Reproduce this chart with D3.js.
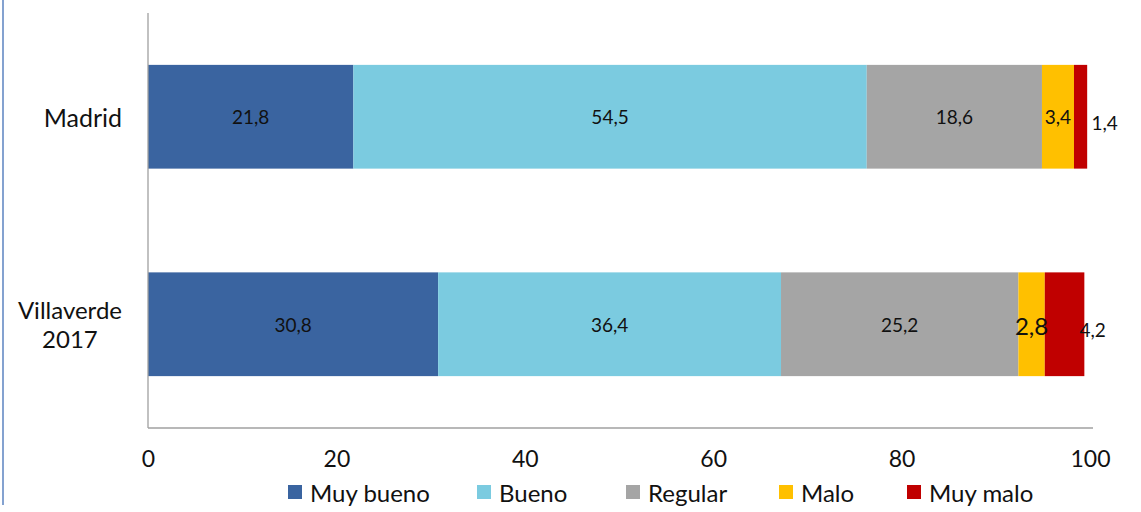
<!DOCTYPE html>
<html><head><meta charset="utf-8">
<script src="https://cdn.jsdelivr.net/npm/d3@7"></script>
<style>body{margin:0;background:#fff}svg{display:block}text{font-family:Lato,"Open Sans",sans-serif;fill:#111}</style>
</head><body>
<script>
const categories = ["Madrid", "Villaverde 2017"];
const series = ["Muy bueno", "Bueno", "Regular", "Malo", "Muy malo"];
const madrid = [21.8, 54.5, 18.6, 3.4, 1.4];
const villaverde = [30.8, 36.4, 25.2, 2.8, 4.2];
const labels = [["21,8","54,5","18,6","3,4","1,4"],["30,8","36,4","25,2","2,8","4,2"]];
const ticks = [0, 20, 40, 60, 80, 100];
const colors = ["#3a64a0", "#7bcbe0", "#a5a5a5", "#ffc000", "#c00000"];
// label style tweaks [dx, dy, fontSize]
const labelStyle = [
  [[0,0,19],[0,0,19],[0,0,19],[0,0,19],[24,6,19]],
  [[0,0,19],[0,0,19],[0,0,19],[0,1,24],[28,5,19]]
];

const W = 1141, H = 512;
const svg = d3.select("body").append("svg").attr("width", W).attr("height", H);

// left frame line
svg.append("line").attr("x1",3).attr("x2",3).attr("y1",0).attr("y2",505)
  .attr("stroke","#5b83c0").attr("stroke-width",1.5);

const x = d3.scaleLinear().domain([0,100]).range([148,1090]);
const y = d3.scaleBand().domain(categories).range([13,428]).paddingInner(0.5).paddingOuter(0.25);

const data = [madrid, villaverde];
categories.forEach((c, i) => {
  let acc = 0;
  const g = svg.append("g");
  data[i].forEach((v, j) => {
    const x0 = acc, x1 = acc + v; acc = x1;
    g.append("rect").attr("x", x(x0)).attr("width", x(x1)-x(x0))
      .attr("y", y(c)).attr("height", y.bandwidth()).attr("fill", colors[j]);
  });
  acc = 0;
  data[i].forEach((v, j) => {
    const x0 = acc, x1 = acc + v; acc = x1;
    const st = labelStyle[i][j];
    g.append("text").attr("x", (x(x0)+x(x1))/2 + st[0]).attr("y", y(c)+y.bandwidth()/2 + st[1])
      .attr("text-anchor","middle").attr("dominant-baseline","central")
      .style("font-size", st[2]+"px").text(labels[i][j]);
  });
});

// axes
svg.append("line").attr("x1",x(0)).attr("x2",x(0)).attr("y1",13).attr("y2",428).attr("stroke","#a0a0a0").attr("stroke-width",1.3);
svg.append("line").attr("x1",x(0)).attr("x2",x(100)+3).attr("y1",428).attr("y2",428).attr("stroke","#a0a0a0").attr("stroke-width",1.3);

const xAxis = svg.append("g").attr("transform","translate(0,428)")
  .call(d3.axisBottom(x).tickValues(ticks).tickSize(0).tickPadding(23).tickFormat(d3.format("d")));
xAxis.select(".domain").remove();
xAxis.selectAll("text").style("font-size","23px").attr("font-family",null).attr("fill","#111");

// category labels: block right-aligned at 122, lines centred within block
categories.forEach(c => {
  const words = c === "Madrid" ? ["Madrid"] : ["Villaverde","2017"];
  const cy = y(c) + y.bandwidth()/2;
  const fs = words.length > 1 ? 24 : 25;
  const t = svg.append("text").attr("text-anchor","middle").style("font-size", fs + "px");
  const spans = words.map((w, k) => t.append("tspan").attr("y", cy + (k - (words.length-1)/2)*29).attr("dominant-baseline","central").text(w));
  const maxW = d3.max(spans, s => s.node().getComputedTextLength());
  const cx = 122 - maxW/2;
  spans.forEach(s => s.attr("x", cx));
});

// legend
const legX = [288, 477, 626, 779, 907];
const leg = svg.append("g");
series.forEach((s, j) => {
  leg.append("rect").attr("x", legX[j]).attr("y", 485).attr("width",14).attr("height",14).attr("fill",colors[j]);
  leg.append("text").attr("x", legX[j]+22).attr("y", 492).attr("dominant-baseline","central").style("font-size","24px").text(s);
});
</script>
</body></html>
